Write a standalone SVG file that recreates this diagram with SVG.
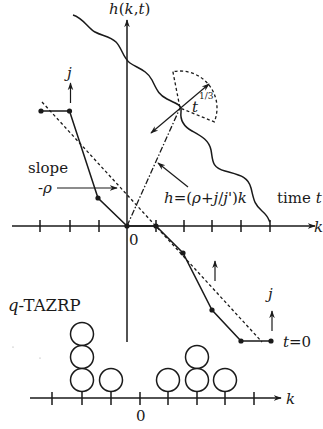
<svg xmlns="http://www.w3.org/2000/svg" width="323" height="429" viewBox="0 0 323 429">
<style>
.ln{fill:none;stroke:#1a1a1a;stroke-width:1.5}
.thin{fill:none;stroke:#1a1a1a;stroke-width:1.2}
.dash{fill:none;stroke:#1a1a1a;stroke-width:1.3;stroke-dasharray:3,2.5}
.dd{fill:none;stroke:#1a1a1a;stroke-width:1.3;stroke-dasharray:6,2,1.5,2}
.dot{fill:#1a1a1a}
.ring{fill:#fff;stroke:#1a1a1a;stroke-width:1.5}
.tx{font-family:"DejaVu Serif","Liberation Serif",serif;fill:#1a1a1a;font-size:15px}
.it{font-style:italic}
.sup{font-size:9px}
.lg{font-size:16.5px}
</style>
<defs>
<marker id="ah" viewBox="0 0 10 10" refX="9" refY="5" markerWidth="8" markerHeight="8" markerUnits="userSpaceOnUse" orient="auto">
<path d="M0,1.5 L10,5 L0,8.5 L3,5 Z" fill="#1a1a1a"/>
</marker>
<marker id="ahs" viewBox="0 0 10 10" refX="9" refY="5" markerWidth="8" markerHeight="8" markerUnits="userSpaceOnUse" orient="auto-start-reverse">
<path d="M0,1.5 L10,5 L0,8.5 L3,5 Z" fill="#1a1a1a"/>
</marker>
</defs>

<g id="axes">
<line class="ln" x1="127" y1="342" x2="127" y2="20" marker-end="url(#ah)"/>
<line class="ln" x1="12" y1="226" x2="315" y2="226" marker-end="url(#ah)"/>
<path class="ln" d="M40,220V232M70,220V232M99,220V232M156,220V232M184,220V232M212,220V232M241,220V232M270,220V232"/>
<text class="tx" x="109" y="14"><tspan class="it">h</tspan>(<tspan class="it">k</tspan>,<tspan class="it">t</tspan>)</text>
<text class="tx it" x="314" y="232">k</text>
<text class="tx" x="129" y="245">0</text>
</g>

<g id="surface">
<path class="ln" d="M73,15 C83,18 88,28 95,32 S110,36 116,42 S123,58 130,63 S147,70 152,80 S158,94 167,99 S182,104 181,112 S183,126 192,131 S209,140 211,150 S211,167 225,171 S248,176 251,188 S254,204 262,211 S268,220 270,222"/>
</g>

<g id="growth-fan">
<path class="dash" d="M172.9,71.7 L180,108 L214.3,121.9 A37,37 0 0 0 172.9,71.7"/>
<line class="thin" x1="151" y1="133" x2="209" y2="84" marker-start="url(#ahs)" marker-end="url(#ahs)"/>
<text class="tx it" x="192" y="112">t</text>
<text class="tx sup" x="199" y="99">1/3</text>
</g>

<g id="height-line">
<line class="dd" x1="127" y1="226" x2="180" y2="108"/>
<line class="thin" x1="188" y1="187" x2="158" y2="163" marker-end="url(#ah)"/>
<text class="tx" x="164" y="203"><tspan class="it">h</tspan>=(<tspan class="it">ρ</tspan>+<tspan class="it">j</tspan>/<tspan class="it">j</tspan>')<tspan class="it">k</tspan></text>
<text class="tx" x="277" y="203">time <tspan class="it">t</tspan></text>
</g>

<g id="profile">
<line class="dash" x1="42" y1="102" x2="262" y2="342"/>
<polyline class="ln" points="41,111 69.5,111 98,198 127,226 156,226 183,253 212,310 241,341 271,341"/>
<g class="dot">
<circle cx="41" cy="111" r="2.6"/><circle cx="69.5" cy="111" r="2.6"/><circle cx="98" cy="198" r="2.6"/>
<circle cx="127" cy="226" r="2.6"/><circle cx="156" cy="226" r="2.6"/><circle cx="183" cy="253" r="2.6"/>
<circle cx="212" cy="310" r="2.6"/><circle cx="241" cy="341" r="2.6"/><circle cx="271" cy="341" r="2.6"/>
</g>
</g>

<g id="slope-label">
<text class="tx" x="28" y="173">slope</text>
<text class="tx" x="38" y="193">-<tspan class="it">ρ</tspan></text>
<line class="thin" x1="57" y1="188" x2="117" y2="188" marker-end="url(#ah)"/>
</g>

<g id="current-arrows">
<line class="thin" x1="70.5" y1="103" x2="70.5" y2="83" marker-end="url(#ah)"/>
<text class="tx it" x="67" y="78">j</text>
<line class="thin" x1="215" y1="281" x2="215" y2="261" marker-end="url(#ah)"/>
<line class="thin" x1="272" y1="331" x2="272" y2="311" marker-end="url(#ah)"/>
<text class="tx it" x="268" y="299">j</text>
<text class="tx" x="283" y="347"><tspan class="it">t</tspan>=0</text>
</g>

<g id="tazrp">
<text class="tx lg" x="8" y="311"><tspan class="it">q</tspan>-TAZRP</text>
<circle cx="13" cy="347" r="0.6" fill="#999"/>
<circle cx="40" cy="358" r="0.6" fill="#999"/>
<line class="ln" x1="30" y1="398" x2="281" y2="398" marker-end="url(#ah)"/>
<path class="ln" d="M52,392V405M82,392V405M111,392V405M140,392V405M168,392V405M197,392V405M225,392V405M254,392V405"/>
<circle class="ring" cx="82" cy="334" r="11.5"/>
<circle class="ring" cx="82" cy="357" r="11.5"/>
<circle class="ring" cx="82" cy="380" r="11.5"/>
<circle class="ring" cx="111" cy="380" r="11.5"/>
<circle class="ring" cx="168" cy="380" r="11.5"/>
<circle class="ring" cx="197" cy="357" r="11.5"/>
<circle class="ring" cx="197" cy="380" r="11.5"/>
<circle class="ring" cx="225" cy="380" r="11.5"/>
<text class="tx it" x="286" y="404">k</text>
<text class="tx" x="136" y="421">0</text>
</g>
</svg>
